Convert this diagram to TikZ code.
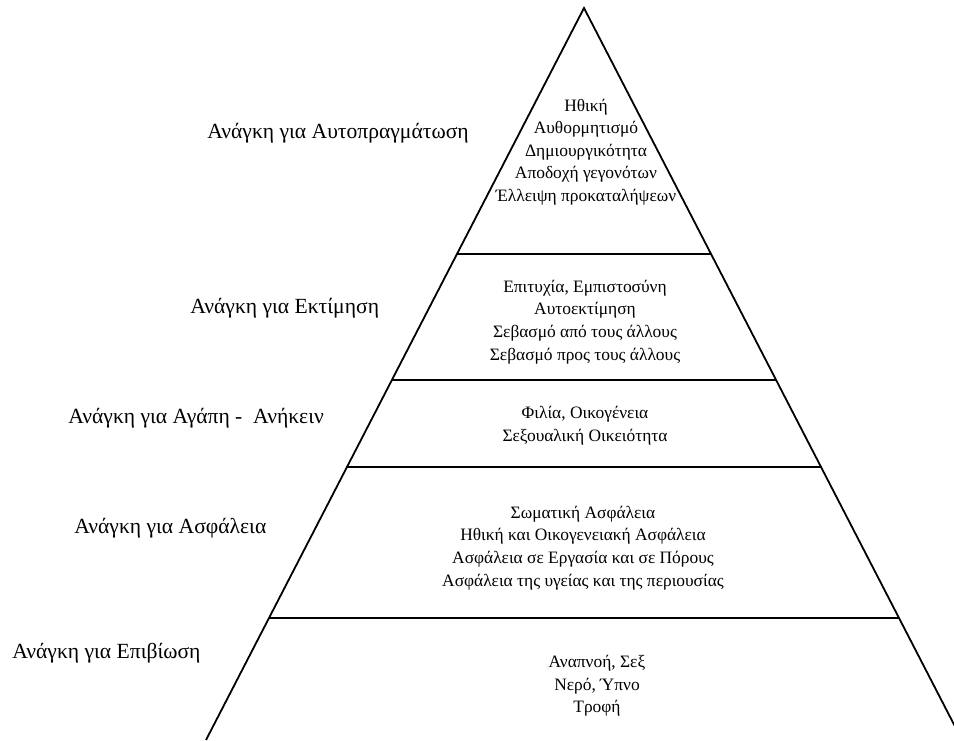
\documentclass[tikz,border=0pt]{standalone}
\usepackage{fontspec}
\setmainfont{Liberation Serif}
\usetikzlibrary{calc}

\begin{document}
\begin{tikzpicture}%
        [x=0.5pt, y=-0.5pt,
        side/.style={color=black, line width=0.9pt},
        level/.style={color=black, line width=1pt},
        need/.style={anchor=west, inner sep=0pt, font=\fontsize{10.8}{13}\selectfont},
        items/.style={align=center, inner sep=0pt, font=\fontsize{8.7}{11.3}\selectfont}]
    \useasboundingbox (0,0) rectangle (954,740);
    \clip (0,0) rectangle (954,740);
    %% Drawing the pyramid
    \coordinate (apex) at (584,8);
    \coordinate (baseL) at (206,740);
    \coordinate (baseR) at (962,740);
    \draw[side] (baseL) -- (apex) -- (baseR);
    %%
    %% Drawing the levels
    %%
    \foreach \t/\name in {0.3361/one, 0.5082/two, 0.6270/three, 0.8333/four}{
        \coordinate (\name L) at ($(apex)!\t!(baseL)$);
        \coordinate (\name R) at ($(apex)!\t!(baseR)$);
        \draw[level] (\name L) -- (\name R);
    }
    %% Contents of each level
    \node[items] (self) at (586,152) {Ηθική\\Αυθορμητισμό\\Δημιουργικότητα\\Αποδοχή γεγονότων\\Έλλειψη προκαταλήψεων};
    \node[items] (esteem) at (585,322) {Επιτυχία, Εμπιστοσύνη\\Αυτοεκτίμηση\\Σεβασμό από τους άλλους\\Σεβασμό προς τους άλλους};
    \node[items] (love) at (585,426) {Φιλία, Οικογένεια\\Σεξουαλική Οικειότητα};
    \node[items] (safety) at (583,548) {Σωματική Ασφάλεια\\Ηθική και Οικογενειακή Ασφάλεια\\Ασφάλεια σε Εργασία και σε Πόρους\\Ασφάλεια της υγείας και της περιουσίας};
    \node[items] (body) at (597,686) {Αναπνοή, Σεξ\\Νερό, Ύπνο\\Τροφή};
    %% Names of the needs
    \node[need] (selfname) at (207,133) {Ανάγκη για Αυτοπραγμάτωση};
    \node[need] (esteemname) at (190,308) {Ανάγκη για Εκτίμηση};
    \node[need] (lovename) at (68,418) {Ανάγκη για Αγάπη -\ \ Ανήκειν};
    \node[need] (safetyname) at (74,528) {Ανάγκη για Ασφάλεια};
    \node[need] (bodyname) at (12,653) {Ανάγκη για Επιβίωση};
\end{tikzpicture}
\end{document}
